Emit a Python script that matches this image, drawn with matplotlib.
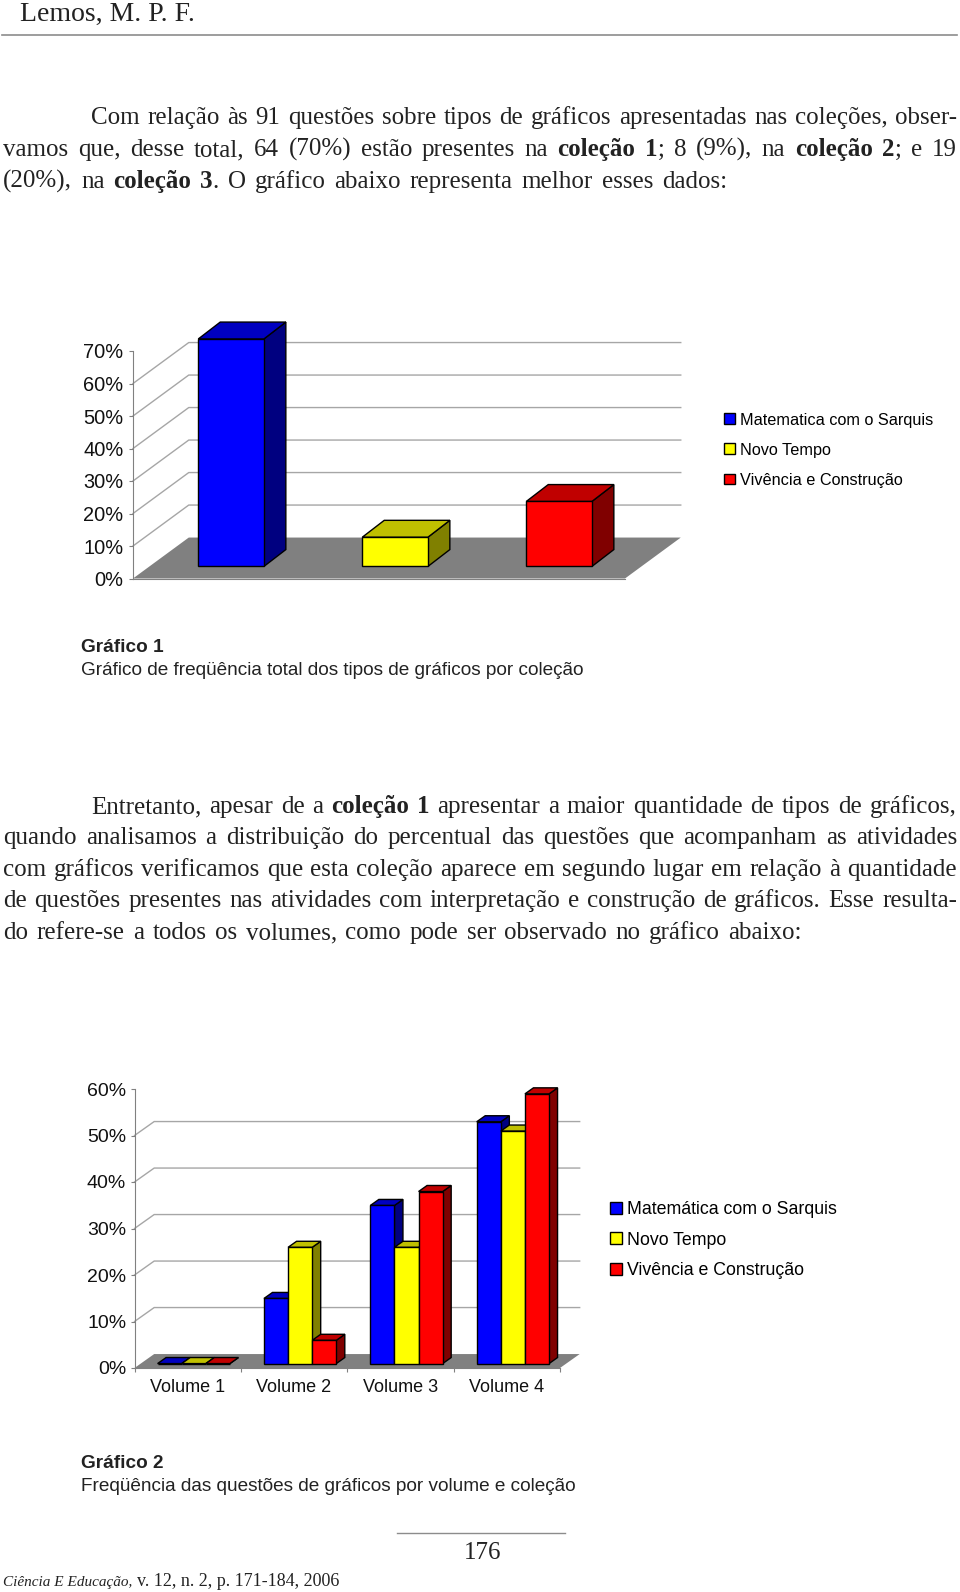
import re
import numpy as np
import matplotlib
matplotlib.use('Agg')
import matplotlib.pyplot as plt
from matplotlib.patches import Polygon

W, H = 960, 1592

# grafico 1
series1 = ['Matematica com o Sarquis', 'Novo Tempo', 'Vivência e Construção']
values1 = [70, 9, 20]

# grafico 2
volumes = ['Volume 1', 'Volume 2', 'Volume 3', 'Volume 4']
series2 = ['Matemática com o Sarquis', 'Novo Tempo', 'Vivência e Construção']
sarquis = [0, 14, 34, 52]
novo_tempo = [0, 25, 25, 50]
vivencia = [0, 5, 37, 58]

front = ['#0000ff', '#ffff00', '#ff0000']
top = ['#0000c0', '#c0c000', '#c00000']
side = ['#000080', '#808000', '#800000']

para1 = ['Com relação às 91 questões sobre tipos de gráficos apresentadas nas coleções, obser-',
         'vamos que, desse total, 64 (70%) estão presentes na *coleção* *1*; 8 (9%), na *coleção* *2*; e 19',
         '(20%), na *coleção* *3*. O gráfico abaixo representa melhor esses dados:']
para2 = ['Entretanto, apesar de a *coleção* *1* apresentar a maior quantidade de tipos de gráficos,',
         'quando analisamos a distribuição do percentual das questões que acompanham as atividades',
         'com gráficos verificamos que esta coleção aparece em segundo lugar em relação à quantidade',
         'de questões presentes nas atividades com interpretação e construção de gráficos. Esse resulta-',
         'do refere-se a todos os volumes, como pode ser observado no gráfico abaixo:']

plt.rcParams['font.family'] = ['Liberation Sans', 'DejaVu Sans']
SERIF = ['Liberation Serif', 'DejaVu Serif']

fig = plt.figure(figsize=(W / 100, H / 100), dpi=100)
page = fig.add_axes([0, 0, 1, 1], zorder=5)
page.set_xlim(0, W)
page.set_ylim(H, 0)
page.axis('off')
renderer = fig.canvas.get_renderer()


def word_width(pieces, size):
    total = 0
    for txt, bold in pieces:
        t = page.text(0, 0, txt, fontsize=size, family=SERIF, weight='bold' if bold else 'normal')
        total += t.get_window_extent(renderer).width
        t.remove()
    return total


def body_line(line, y, x0, x1, size=18):
    # *palavra* vai em negrito; a linha fica justificada entre x0 e x1
    words = []
    for w in line.split():
        pieces = [(p.strip('*'), p.startswith('*')) for p in re.findall(r'\*[^*]+\*|[^*]+', w)]
        words.append(pieces)
    widths = [word_width(p, size) for p in words]
    gap = (x1 - x0 - sum(widths)) / (len(words) - 1)
    x = x0
    for pieces, wd in zip(words, widths):
        px = x
        for txt, bold in pieces:
            t = page.text(px, y, txt, fontsize=size, family=SERIF, color='#222222',
                          weight='bold' if bold else 'normal', va='baseline')
            px += t.get_window_extent(renderer).width
        x += wd + gap


def box3d(ax, x0, w, h, base, bar_depth, s, z):
    bdx, bdy = bar_depth
    x1 = x0 + w
    b = base + h
    ax.add_patch(Polygon([(x1, base), (x1 + bdx, base + bdy), (x1 + bdx, b + bdy), (x1, b)],
                         fc=side[s], ec='black', lw=1, clip_on=False, zorder=z))
    ax.add_patch(Polygon([(x0, b), (x1, b), (x1 + bdx, b + bdy), (x0 + bdx, b + bdy)],
                         fc=top[s], ec='black', lw=1, clip_on=False, zorder=z))


def frame(box, n, grid_top, depth, fs, pad):
    left, right, ytop, ybot, ymax = box
    ax = fig.add_axes([left / W, 1 - ybot / H, (right - left) / W, (ybot - ytop) / H], facecolor='none')
    ax.set_xlim(0, n)
    ax.set_ylim(0, ymax)
    dx, dy = depth
    ax.add_patch(Polygon([(0, 0), (n, 0), (n + dx, dy), (dx, dy)], fc='#808080', ec='none',
                         clip_on=False, zorder=1))
    for g in np.arange(10, grid_top + 1, 10):
        ax.plot([0, dx, n + dx], [g, g + dy, g + dy], color='#a6a6a6', lw=1, clip_on=False, zorder=1)
    for sp in ['top', 'right']:
        ax.spines[sp].set_visible(False)
    for sp in ['left', 'bottom']:
        ax.spines[sp].set_color('#808080')
    ax.spines['bottom'].set_zorder(1.5)
    ax.set_yticks(np.arange(0, ymax + 1, 10))
    ax.set_yticklabels(['%d%%' % t for t in np.arange(0, ymax + 1, 10)], fontsize=fs, color='#111111')
    ax.tick_params(axis='y', length=3, color='#808080', pad=pad)
    return ax


def add_legend(ax, at, fs, spacing):
    ax.legend(loc='upper left', bbox_to_anchor=(at[0] / W, 1 - at[1] / H),
              bbox_transform=fig.transFigure, frameon=False, fontsize=fs, borderpad=0,
              borderaxespad=0, handlelength=0.66, handleheight=0.66, handletextpad=0.3,
              labelspacing=spacing)


# grafico 1: uma barra por colecao
ax1 = frame((133, 625, 351, 578.5, 70), 3, 60, (0.34, 12.6), 14.4, 4)
ax1.set_xticks([])
bar_depth1 = (0.134, 5.2)
base1 = 3.7
w1 = 0.40
z = 2
for s, v in enumerate(values1):
    xc = s + 0.5 + 0.098
    box3d(ax1, xc - w1 / 2, w1, v, base1, bar_depth1, s, z)
    ax1.bar([xc], [v], w1, bottom=base1, color=front[s], edgecolor='black', linewidth=1,
            clip_on=False, zorder=z + 1, label=series1[s])
    z += 2
add_legend(ax1, (724, 412.5), 11.7, 0.93)

# grafico 2: tres barras por volume
ax2 = frame((134.5, 560, 1089, 1368, 60), 4, 50, (0.185, 3.0), 14, 3)
ax2.set_xticks(np.arange(5))
ax2.set_xticklabels([])
ax2.set_xticks(np.arange(4) + 0.5, labels=volumes, minor=True)
ax2.tick_params(axis='x', which='major', length=3, color='#808080')
ax2.tick_params(axis='x', which='minor', length=0, labelsize=13, pad=8, labelcolor='#111111')
bar_depth2 = (0.08, 1.3)
base2 = 0.95
w2 = 0.68 / 3
z = 2
for s, vals in enumerate([sarquis, novo_tempo, vivencia]):
    xs = np.arange(4) + 0.5 + 0.057 + (s - 1) * w2
    for x0, h in zip(xs - w2 / 2, vals):
        box3d(ax2, x0, w2, h, base2, bar_depth2, s, z)
    ax2.bar(xs, vals, w2, bottom=base2, color=front[s], edgecolor='black', linewidth=1,
            clip_on=False, zorder=z + 1, label=series2[s])
    z += 2
add_legend(ax2, (610, 1201), 12.8, 0.76)

# cabecalho e texto
page.text(20, 21, 'Lemos, M. P. F.', fontsize=20, family=SERIF, color='#222222', va='baseline')
page.plot([2, 957], [35, 35], color='#8c8c8c', lw=1.2)

for i, (line, y) in enumerate(zip(para1, [124, 156, 188])):
    x0 = 91 if i == 0 else 3
    x1 = 727 if i == 2 else 957
    body_line(line, y, x0, x1)

for i, (line, y) in enumerate(zip(para2, [813, 844, 876, 907, 939])):
    x0 = 91 if i == 0 else 3
    x1 = 802 if i == 4 else 957
    body_line(line, y, x0, x1)

# legendas dos graficos
page.text(81, 652, 'Gráfico 1', fontsize=13.65, weight='bold', color='#222222', va='baseline')
page.text(81, 675, 'Gráfico de freqüência total dos tipos de gráficos por coleção', fontsize=13.65,
          color='#222222', va='baseline')
page.text(81, 1468, 'Gráfico 2', fontsize=13.65, weight='bold', color='#222222', va='baseline')
page.text(81, 1491, 'Freqüência das questões de gráficos por volume e coleção', fontsize=13.65,
          color='#222222', va='baseline')

# rodape
page.plot([397, 565], [1533, 1533], color='#8c8c8c', lw=1)
page.text(483, 1559, '176', fontsize=18, family=SERIF, color='#222222', ha='center', va='baseline')
page.text(3, 1586, 'Ciência E Educação,', fontsize=11, family=SERIF, style='italic', color='#222222',
          va='baseline')
page.text(137, 1586, 'v. 12, n. 2, p. 171-184, 2006', fontsize=13, family=SERIF, color='#222222',
          va='baseline')

fig.savefig('out.png', dpi=100)
